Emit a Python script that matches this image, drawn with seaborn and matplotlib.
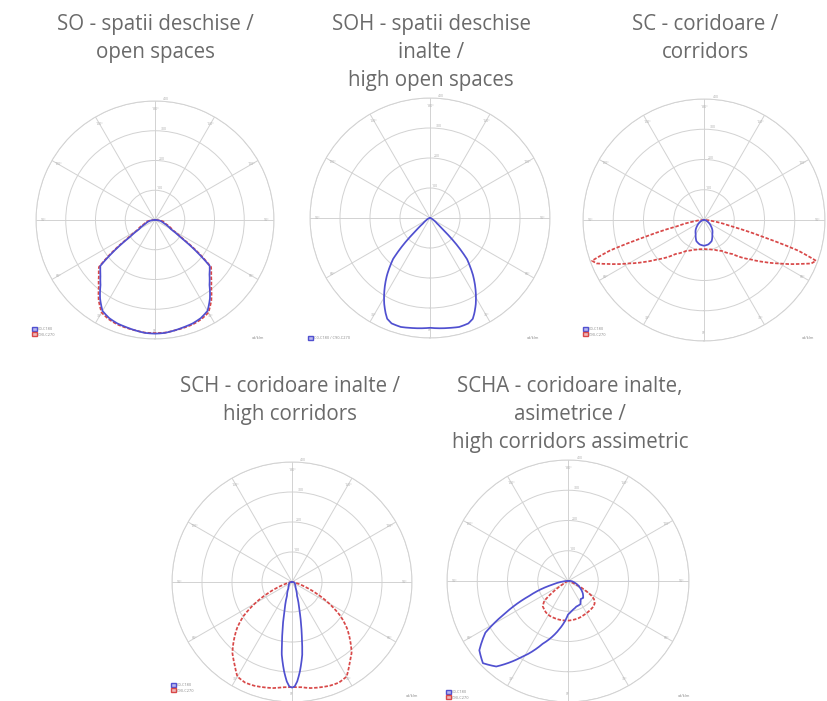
import numpy as np
import pandas as pd
import matplotlib
matplotlib.use("Agg")
import matplotlib.pyplot as plt
import seaborn as sns
from matplotlib.patches import Patch

sns.set_style("white")
plt.rcParams['font.family'] = ['Open Sans', 'DejaVu Sans']

# luminous intensity, cd/klm (gamma in degrees, 0 = down)
so_gamma = [0, 5, 10, 15, 20, 25, 30, 35, 40, 45, 50, 53, 56, 60, 70, 80, 90]
so_c0 = [382, 381, 377, 373, 370, 364, 353, 322, 285, 259, 240, 170, 102, 62, 32, 20, 0]
so_c90 = [380, 380, 377, 375, 373, 368, 359, 330, 294, 267, 246, 181, 113, 70, 38, 27, 0]

soh_gamma = [0, 5, 10, 15, 20, 23, 25, 28, 31, 34, 37, 40, 42, 45, 48, 52, 60, 75, 90]
soh_c0 = [366, 369, 372, 376, 374, 365, 350, 325, 297, 268, 238, 205, 184, 125, 62, 30, 13, 4, 0]

sc_gamma = [0, 10, 20, 30, 40, 50, 55, 60, 65, 68, 70, 72, 74, 77, 82, 90]
sc_c90 = [96, 98, 105, 118, 147, 203, 242, 287, 344, 383, 394, 327, 203, 90, 34, 0]
sc_gamma_b = [0, 10, 20, 30, 40, 50, 60, 70, 80, 90]
sc_c0 = [85, 82, 74, 55, 43, 29, 18, 10, 5, 0]

sch_gamma_b = [0, 1.5, 3, 5, 8, 10, 12, 15, 20, 30, 45, 60, 75, 90]
sch_c0 = [352, 348, 332, 300, 245, 190, 146, 93, 49, 24, 15, 11, 9, 0]
sch_gamma_r = [0, 5, 10, 20, 25, 30, 35, 40, 45, 50, 55, 60, 65, 70, 75, 80, 90]
sch_c90 = [350, 352, 359, 368, 370, 364, 334, 309, 274, 239, 197, 142, 88, 44, 20, 9, 0]

# asymmetric: angle from down, positive to the right
scha_ang_b = [-95, -85, -77, -69, -63, -58, -52, -46, -40, -32, -22, -10, 0, 8, 18, 28, 35, 42, 50, 60, 75, 90, 100]
scha_c0 = [0, 13, 51, 137, 231, 322, 372, 391, 369, 300, 224, 161, 111, 98, 89, 87, 73, 75, 64, 47, 24, 9, 0]
scha_ang_r = [-65, -58, -54, -50, -45, -35, -28, -15, 0, 15, 25, 36, 45, 50, 55, 58, 62, 66, 72, 80]
scha_c90 = [0, 20, 60, 102, 118, 127, 130, 131, 131, 128, 124, 121, 119, 115, 105, 91, 61, 28, 6, 0]

titles = [["SO - spatii deschise /", "open spaces"],
          ["SOH - spatii deschise", "inalte /", "high open spaces"],
          ["SC - coridoare /", "corridors"],
          ["SCH - coridoare inalte /", "high corridors"],
          ["SCHA - coridoare inalte,", "asimetrice /", "high corridors assimetric"]]

BLUE = "#5050d0"
RED = "#d84848"
GRID = "#d2d2d2"
W, H = 827, 701


def mirror(g, r):
    g = np.array(g, float)
    r = np.array(r, float)
    th = np.concatenate([-g[::-1], g[1:]])
    rr = np.concatenate([r[::-1], r[1:]])
    return np.deg2rad(th), rr


def make_ax(fig, cx, cy, R):
    ax = fig.add_axes([(cx - R) / W, 1 - (cy + R) / H, 2 * R / W, 2 * R / H],
                      projection="polar")
    ax.set_theta_zero_location("S")
    ax.set_ylim(0, 400)
    ax.set_rgrids([100, 200, 300, 400], labels=["100", "200", "300", "400"],
                  angle=176, fontsize=2.5, color="#aaaaaa")
    angs = np.arange(0, 360, 30)
    labs = [f"{a if a <= 180 else 360 - a}°" for a in angs]
    ax.set_thetagrids(angs, labels=labs, fontsize=2.5, color="#aaaaaa")
    ax.tick_params(axis="x", pad=-16)
    ax.grid(True, color=GRID, lw=0.7)
    ax.spines["polar"].set_color(GRID)
    ax.spines["polar"].set_linewidth(0.7)
    return ax


def draw(ax, theta, r, color, dashed=False):
    d = pd.DataFrame({"theta": theta, "r": r})
    sns.lineplot(data=d, x="theta", y="r", ax=ax, sort=False, color=color,
                 lw=1.25, linestyle=(0, (2.0, 1.0)) if dashed else "-",
                 estimator=None)
    ax.lines[-1].get_path()._interpolation_steps = 6
    ax.set_xlabel("")
    ax.set_ylabel("")


def legend(fig, x, y, two=True):
    if two:
        h = [Patch(facecolor="#b8b8f0", edgecolor=BLUE, label="C0-C180"),
             Patch(facecolor="#f0b8b8", edgecolor=RED, label="C90-C270")]
    else:
        h = [Patch(facecolor="#b8b8f0", edgecolor=BLUE, label="C0-C180 / C90-C270")]
    fig.legend(handles=h, loc="upper left", bbox_to_anchor=(x / W, 1 - y / H),
               fontsize=2.8, frameon=False, handlelength=1.2, handleheight=1.2,
               handletextpad=0.4, labelspacing=0.3, borderpad=0, labelcolor="#888888")


fig = plt.figure(figsize=(W / 100, H / 100), dpi=100)

centers = [(155, 220, 119), (430, 218, 120), (704, 220, 121), (292, 582, 120), (568, 581, 121)]
axes = [make_ax(fig, *c) for c in centers]

draw(axes[0], *mirror(so_gamma, so_c90), RED, dashed=True)
draw(axes[0], *mirror(so_gamma, so_c0), BLUE)
draw(axes[1], *mirror(soh_gamma, soh_c0), BLUE)
draw(axes[2], *mirror(sc_gamma, sc_c90), RED, dashed=True)
draw(axes[2], *mirror(sc_gamma_b, sc_c0), BLUE)
draw(axes[3], *mirror(sch_gamma_r, sch_c90), RED, dashed=True)
draw(axes[3], *mirror(sch_gamma_b, sch_c0), BLUE)
draw(axes[4], np.deg2rad(scha_ang_r), np.array(scha_c90, float), RED, dashed=True)
draw(axes[4], np.deg2rad(scha_ang_b), np.array(scha_c0, float), BLUE)

# titles, one baseline per line
title_pos = [(155, 30), (431, 30), (705, 30), (290, 392), (570, 392)]
for (tx, ty), lines in zip(title_pos, titles):
    for i, t in enumerate(lines):
        fig.text(tx / W, 1 - (ty + i * 28) / H, t, ha="center", va="baseline",
                 fontsize=14.8, color="#6a6a6a")

# legends and unit labels
legend(fig, 30, 325)
legend(fig, 306, 334, two=False)
legend(fig, 581, 325)
legend(fig, 169, 681)
legend(fig, 444, 688)
for ux, uy in [(258, 338), (533, 338), (808, 338), (412, 696), (684, 696)]:
    fig.text(ux / W, 1 - uy / H, "cd/klm", fontsize=2.8, color="#888888",
             ha="center", va="center")

fig.savefig("out.png", dpi=100)
